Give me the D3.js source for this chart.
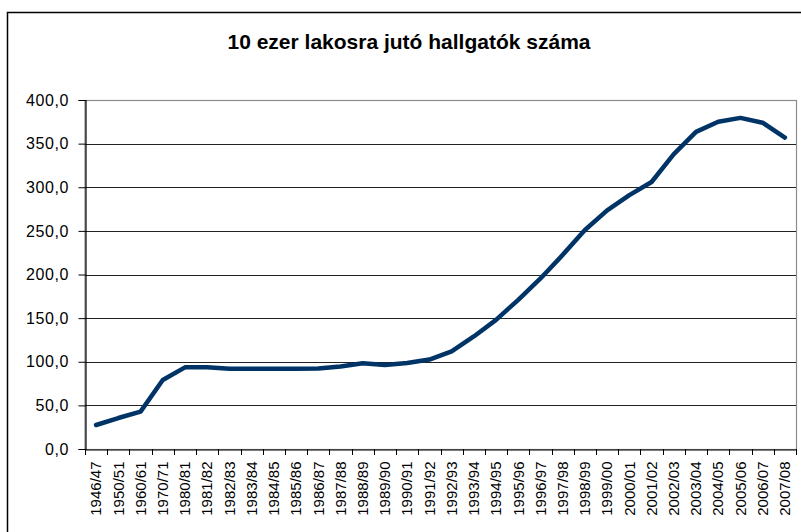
<!DOCTYPE html>
<html><head><meta charset="utf-8">
<script src="https://cdn.jsdelivr.net/npm/d3@7"></script>
<style>body{margin:0;background:#fff}svg{display:block}</style>
</head><body>
<svg id="c" width="801" height="532"></svg>
<script>
const title = "10 ezer lakosra jutó hallgatók száma";
const categories = ["1946/47","1950/51","1960/61","1970/71","1980/81","1981/82","1982/83","1983/84","1984/85","1985/86","1986/87","1987/88","1988/89","1989/90","1990/91","1991/92","1992/93","1993/94","1994/95","1995/96","1996/97","1997/98","1998/99","1999/00","2000/01","2001/02","2002/03","2003/04","2004/05","2005/06","2006/07","2007/08"];
const values = [27.5,35.5,42.8,79,93.6,93.6,92,92,92,92,92.3,94.5,98.2,96.3,98.6,102.5,112,129,148,171,195.5,222.5,251,273.5,291,306,338,363.5,375,379.5,374,357];
const yTicks = [0,50,100,150,200,250,300,350,400];

const svg = d3.select("#c");
const L = 85, R = 796, T = 100, B = 449;
const font = "'Liberation Sans', Arial, sans-serif";

// outer border
svg.append("rect").attr("x",7.5).attr("y",12.5).attr("width",820).attr("height",540)
  .attr("fill","none").attr("stroke","#000").attr("stroke-width",1.5);

svg.append("text").attr("x",409).attr("y",49).attr("text-anchor","middle")
  .attr("font-family",font).attr("font-weight","bold").attr("font-size",21).text(title);

const x = d3.scaleBand().domain(categories).range([L,R]);
const y = d3.scaleLinear().domain([0,400]).range([B,T]);

// plot area border (gray)
svg.append("rect").attr("x",L).attr("y",T+0.5).attr("width",R-L+0.5).attr("height",B-T)
  .attr("fill","none").attr("stroke","#8c8c8c").attr("stroke-width",1.2);

// gridlines
svg.append("g").selectAll("line").data(yTicks.filter(d=>d>0 && d<400)).join("line")
  .attr("x1",L).attr("x2",R).attr("y1",d=>Math.round(y(d))+0.5).attr("y2",d=>Math.round(y(d))+0.5)
  .attr("stroke","#222").attr("stroke-width",1);

// y axis
const yAxis = d3.axisLeft(y).tickValues(yTicks).tickSize(7).tickPadding(10)
  .tickFormat(d=>d3.format(".1f")(d).replace(".",","));
const gy = svg.append("g").attr("transform",`translate(${L+0.5},0)`).call(yAxis);
gy.select(".domain").attr("stroke","#000").attr("stroke-width",1.2);
gy.selectAll(".tick line").attr("stroke","#000");
gy.selectAll(".tick text").attr("font-family",font).attr("font-size",16).attr("fill","#000")
  .attr("letter-spacing","0.6px").attr("dx","0.6px");

// x axis
const gx = svg.append("g").attr("transform",`translate(0,${B+0.5})`)
  .call(d3.axisBottom(x).tickSize(0).tickPadding(0));
gx.select(".domain").attr("stroke","#000").attr("stroke-width",1.2);
gx.selectAll(".tick text").attr("font-family",font).attr("font-size",15).attr("fill","#000")
  .attr("text-anchor","end").attr("transform","rotate(-90)")
  .attr("x",-12).attr("y",0).attr("dy","0.35em");
// boundary ticks
const bounds = categories.map(c=>x(c)).concat([R]);
svg.append("g").selectAll("line").data(bounds).join("line")
  .attr("x1",d=>Math.round(d)+0.5).attr("x2",d=>Math.round(d)+0.5)
  .attr("y1",B).attr("y2",B+6).attr("stroke","#000").attr("stroke-width",1);

// line
const line = d3.line().x((d,i)=>x(categories[i])+x.bandwidth()/2).y(d=>y(d));
svg.append("path").datum(values).attr("d",line).attr("fill","none")
  .attr("stroke","#003366").attr("stroke-width",4.5).attr("stroke-linejoin","round").attr("stroke-linecap","round");
</script>
</body></html>
